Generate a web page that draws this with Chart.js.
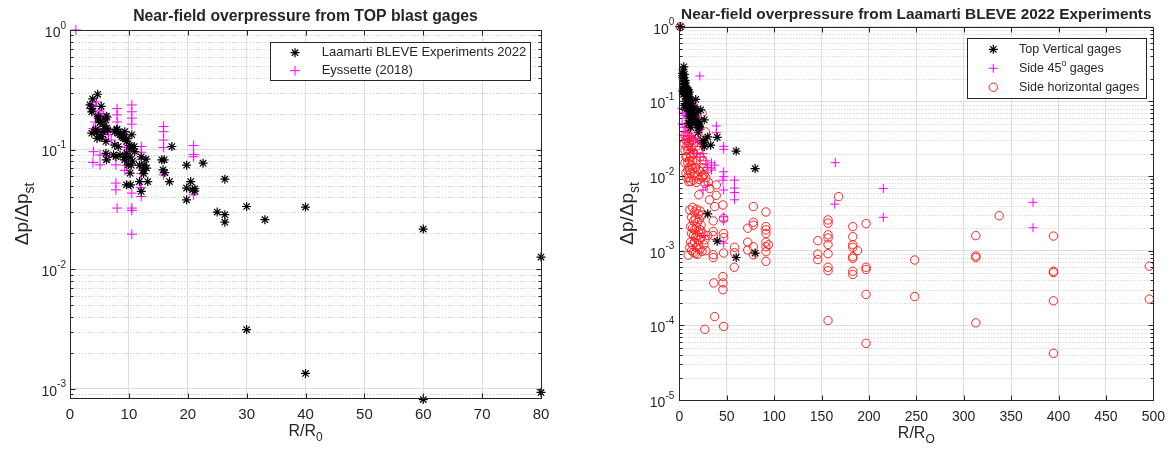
<!DOCTYPE html>
<html><head><meta charset="utf-8">
<script src="https://cdn.jsdelivr.net/npm/chart.js@4.4.0/dist/chart.umd.min.js"></script>
<style>
html,body{margin:0;padding:0;background:#fff;}
#wrap{position:relative;width:1174px;height:450px;overflow:hidden;}
canvas{position:absolute;top:0;}
</style></head><body>
<div id="wrap">
<canvas id="c1" width="590" height="450" style="left:0"></canvas>
<canvas id="c2" width="584" height="450" style="left:590px"></canvas>
</div>
<script>
// ---------------- DATA ----------------
// Laamarti BLEVE Experiments 2022 / Top vertical gages  [R/R0, dp/dp_st]
const topGages = [[4.7,0.29],[3.85,0.265],[3.4,0.236],[3.7,0.22],[3.7,0.207],[5.3,0.23],[4.8,0.189],[5.2,0.171],[6.1,0.177],[6.2,0.19],[4.8,0.183],[5.1,0.168],[5.8,0.156],[6.4,0.146],[4.4,0.146],[4.3,0.146],[3.7,0.137],[5.4,0.128],[4.6,0.124],[5.6,0.141],[4.5,0.139],[6.1,0.117],[6.2,0.15],[5.1,0.128],[6.1,0.093],[6.2,0.082],[7.6,0.141],[8.0,0.148],[7.9,0.146],[8.2,0.137],[8.8,0.128],[9.6,0.124],[9.0,0.125],[9.3,0.141],[7.6,0.109],[8.2,0.106],[7.8,0.0874],[7.4,0.0904],[8.5,0.09],[8.5,0.133],[9.3,0.087],[9.6,0.117],[9.6,0.093],[10.1,0.108],[10.5,0.102],[10.4,0.106],[10.5,0.133],[10.9,0.106],[11.0,0.096],[9.9,0.0745],[9.3,0.082],[10.2,0.0635],[9.6,0.0507],[10.3,0.0507],[10.2,0.087],[10.6,0.08],[10.4,0.074],[12.1,0.087],[11.8,0.074],[12.4,0.067],[11.8,0.054],[12.1,0.0446],[12.6,0.074],[12.9,0.083],[13.2,0.054],[12.5,0.063],[13.0,0.07],[15.6,0.082],[16.0,0.082],[15.8,0.0677],[16.1,0.064],[16.9,0.054],[17.3,0.106],[19.8,0.074],[19.8,0.0476],[19.8,0.038],[20.5,0.054],[20.8,0.046],[21.2,0.045],[21.2,0.047],[22.6,0.0769],[25.0,0.030],[26.3,0.0565],[26.3,0.0285],[26.3,0.0247],[30,0.0334],[33.1,0.0259],[30,0.00312],[40,0.033],[40,0.00134],[60,0.0216],[60,0.00081],[80,0.0126],[80,0.00093]];
// Eyssette (2018)
const eyssette = [[1,1],[3.7,0.232],[3.5,0.22],[4.3,0.23],[5.0,0.21],[4.6,0.195],[5.1,0.19],[5.6,0.2],[4.0,0.15],[4.3,0.17],[5.1,0.15],[6.2,0.145],[6.5,0.133],[5.3,0.128],[4.0,0.096],[3.9,0.078],[5.1,0.09],[5.1,0.0745],[8.0,0.22],[8.0,0.195],[8.0,0.17],[8.0,0.14],[7.8,0.0745],[7.8,0.0524],[7.8,0.046],[8.0,0.0324],[10.5,0.236],[10.5,0.207],[10.5,0.183],[10.5,0.163],[9.6,0.12],[9.3,0.104],[9.4,0.082],[9.6,0.074],[9.3,0.067],[10.5,0.0432],[10.5,0.0324],[10.5,0.031],[10.5,0.0196],[12.1,0.106],[12.1,0.095],[12.1,0.083],[12.1,0.063],[12.1,0.054],[12.1,0.0405],[12.0,0.048],[15.9,0.156],[15.9,0.141],[15.9,0.12],[15.9,0.104],[15.9,0.0614],[21,0.108],[21,0.091],[21,0.087],[21,0.0418],[6.7,0.087],[6.0,0.16],[6.5,0.14],[7.0,0.12],[9.8,0.09],[10.0,0.1],[4.5,0.25],[5.5,0.175],[9.0,0.135],[12.3,0.07],[6.3,0.185]];
// reference point shared by the three series of the right panel
const refPoint = [[1,1]];
// Side 45° gages
const side45 = [[21.7,0.219],[4,0.14],[6,0.13],[8,0.12],[10,0.11],[12,0.1],[14,0.095],[5,0.1],[7,0.09],[9,0.085],[11,0.08],[13,0.075],[15,0.07],[17,0.085],[19,0.065],[21,0.06],[3,0.08],[4,0.07],[6,0.065],[8,0.06],[10,0.055],[12,0.05],[14,0.048],[16,0.05],[18,0.045],[20,0.04],[22,0.042],[3,0.05],[5,0.045],[7,0.04],[9,0.038],[11,0.035],[13,0.033],[15,0.03],[17,0.032],[19,0.028],[21,0.03],[24,0.025],[26,0.028],[4,0.035],[6,0.03],[8,0.028],[10,0.025],[12,0.023],[14,0.022],[18,0.02],[22,0.018],[25,0.02],[28,0.016],[30,0.013],[39.1,0.0468],[39.1,0.038],[33.9,0.015],[33.9,0.0128],[37.3,0.014],[34,0.012],[46.8,0.0228],[46.8,0.025],[46.8,0.0114],[46.8,0.0098],[46,0.0088],[46.8,0.0065],[46.8,0.00285],[46.8,0.0025],[46.8,0.00126],[58.3,0.0088],[58.3,0.0069],[58.3,0.006],[58.3,0.0048],[164.6,0.0151],[164,0.0042],[215.2,0.0068],[215.2,0.0028],[373.1,0.00445],[373.1,0.00203],[27,0.0016],[25,0.0065],[30,0.0075]];
// Side horizontal gages
const sideHoriz = [[10,0.046],[9,0.034],[24,0.069],[27.6,0.039],[6,0.035],[7,0.03],[8,0.025],[9,0.022],[10,0.028],[11,0.02],[12,0.018],[13,0.024],[14,0.016],[15,0.02],[8,0.018],[9,0.015],[10,0.013],[11,0.012],[12,0.011],[13,0.014],[14,0.0125],[16,0.011],[17,0.013],[18,0.016],[19,0.01],[20,0.012],[21,0.009],[22,0.0115],[24,0.0095],[25,0.013],[26,0.0105],[27,0.008],[10,0.0095],[12,0.0085],[15,0.0088],[18,0.0082],[7,0.011],[8,0.0095],[6,0.015],[7,0.018],[16,0.028],[20,0.022],[22,0.018],[23,0.03],[18,0.025],[12,0.033],[14,0.03],[25,0.016],[28,0.0095],[30,0.0125],[6,0.022],[5,0.027],[11,0.016],[9,0.012],[20.6,0.0056],[10,0.0084],[24.8,0.01],[32.1,0.0068],[30.5,0.0083],[39.1,0.0076],[32,0.0048],[39,0.0055],[37.4,0.0039],[46,0.0041],
[11.2,0.0035],[14,0.0038],[16,0.0033],[18,0.0036],[20,0.0031],[22,0.0034],[24,0.003],[13,0.0028],[15,0.0025],[17,0.0027],[19,0.0024],[21,0.0026],[23,0.0022],[12,0.0021],[14,0.002],[16,0.0019],[18,0.0021],[20,0.0018],[22,0.0019],[25,0.0017],[13,0.0017],[15,0.0016],[17,0.0015],[19,0.0016],[21,0.0014],[23,0.0015],[12,0.0013],[14,0.0012],[16,0.0013],[18,0.0011],[20,0.0012],[22,0.00105],[26,0.0012],[28,0.001],[11,0.0011],[13,0.001],[15,0.00095],[17,0.00092],[9.4,0.00087],[19,0.00089],[24,0.00098],[27,0.0014],[30,0.0016],
[35.8,0.0025],[35.8,0.0018],[35.8,0.0016],[35.8,0.00088],[35.8,0.00081],[46.8,0.0027],[46.8,0.0017],[46.8,0.0015],[46.8,0.00093],[46,0.00045],[46,0.00037],[46,0.0003],[36.4,0.00037],[37.3,0.000131],[26.9,0.0000885],[46.8,0.0000966],[58.3,0.00111],[58.3,0.00094],[58,0.0006],[78.1,0.0039],[72.2,0.002],[72.2,0.0013],[72.2,0.00102],[78.1,0.0024],[78.1,0.0022],[78.1,0.00113],[78.1,0.00088],[91.4,0.0033],[91.4,0.0021],[91.4,0.0019],[91.4,0.0017],[91.4,0.0013],[91.4,0.00113],[91.4,0.00097],[91.4,0.00072],[94,0.0012],[146.1,0.00136],[146.1,0.0009],[146.1,0.00076],[156.9,0.00258],[156.9,0.00234],[156.9,0.00163],[156.9,0.00148],[156.9,0.00121],[156.9,0.00091],[156.9,0.0006],[156.9,0.00054],[156.9,0.000116],[168.1,0.0053],[183,0.0021],[183,0.00154],[183,0.0012],[183,0.00111],[183,0.00083],[183,0.00079],[183,0.00053],[183,0.00048],[188,0.001],[197,0.0023],[197,0.0006],[197,0.00056],[197,0.00026],[197,0.0000574],[248.3,0.00075],[248.3,0.000243],[312.8,0.00159],[312.8,0.00085],[312.8,0.00081],[312.8,0.000108],[337.5,0.00294],[394.7,0.00157],[394.7,0.00053],[394.7,0.00051],[394.7,0.000213],[394.7,0.0000422],[495.8,0.00062],[495.8,0.000225]];

// axis ranges / ticks
const leftXTicks = [0,10,20,30,40,50,60,70,80];
const leftYDecades = [-3,-2,-1,0];
const rightXTicks = [0,50,100,150,200,250,300,350,400,450,500];
const rightYDecades = [-5,-4,-3,-2,-1,0];

// ---------------- HELPERS ----------------
const FONT = '"Liberation Sans", Arial, Helvetica, sans-serif';
Chart.defaults.font.family = FONT;
const TXT = '#262626';
const pts = arr => arr.map(p => ({x: p[0], y: p[1]}));

function logTicks(decades, min) {
  const out = [];
  const lo = Math.min(...decades), hi = Math.max(...decades);
  for (let e = lo - 1; e <= hi; e++) {
    for (let m = 1; m <= 9; m++) {
      const v = m * Math.pow(10, e);
      if (e === hi && m > 1) break;
      if (v >= min * 0.9999) out.push({value: v, major: m === 1});
    }
  }
  return out;
}
function isDecade(v){ const l = Math.log10(v); return Math.abs(l - Math.round(l)) < 1e-9; }

function drawParts(ctx, parts, cx, cy, rot, align) {
  ctx.save();
  ctx.translate(cx, cy);
  if (rot) ctx.rotate(rot);
  let w = 0;
  parts.forEach(p => { ctx.font = p.font; p.w = ctx.measureText(p.t).width; w += p.w; });
  let x = align === 'left' ? 0 : (align === 'right' ? -w : -w / 2);
  ctx.textBaseline = 'middle'; ctx.textAlign = 'left'; ctx.fillStyle = TXT;
  parts.forEach(p => { ctx.font = p.font; ctx.fillText(p.t, x, p.dy || 0); x += p.w; });
  ctx.restore();
}

const minorGrid = {
  id: 'minorGrid',
  beforeDatasetsDraw(chart) {
    const {ctx, chartArea: a} = chart; const ys = chart.scales.y;
    ctx.save(); ctx.strokeStyle = '#c8c8c8'; ctx.lineWidth = 1; ctx.setLineDash([1, 2]);
    ys.ticks.forEach(t => {
      if (isDecade(t.value)) return;
      const y = Math.round(ys.getPixelForValue(t.value)) + 0.5;
      ctx.beginPath(); ctx.moveTo(a.left, y); ctx.lineTo(a.right, y); ctx.stroke();
    });
    ctx.restore();
  }
};

const frame = {
  id: 'frame',
  afterDraw(chart) {
    const {ctx, chartArea: a} = chart; const xs = chart.scales.x, ys = chart.scales.y;
    const L = Math.round(a.left) + 0.5, R = Math.round(a.right) + 0.5, T = Math.round(a.top) + 0.5, B = Math.round(a.bottom) + 0.5;
    ctx.save(); ctx.strokeStyle = TXT; ctx.lineWidth = 1;
    ctx.strokeRect(L, T, R - L, B - T);
    ctx.beginPath();
    xs.ticks.forEach(t => {
      const x = Math.round(xs.getPixelForValue(t.value)) + 0.5;
      ctx.moveTo(x, B); ctx.lineTo(x, B - 5); ctx.moveTo(x, T); ctx.lineTo(x, T + 5);
    });
    ys.ticks.forEach(t => {
      const len = isDecade(t.value) ? 5 : 3;
      const y = Math.round(ys.getPixelForValue(t.value)) + 0.5;
      ctx.moveTo(L, y); ctx.lineTo(L + len, y); ctx.moveTo(R, y); ctx.lineTo(R - len, y);
    });
    ctx.stroke(); ctx.restore();
  }
};

const annot = {
  id: 'annot',
  afterDraw(chart, args, o) {
    const ctx = chart.ctx; const a = chart.chartArea; const ys = chart.scales.y;
    // y tick labels: 10 with raised exponent
    ys.ticks.forEach(t => {
      if (!isDecade(t.value)) return;
      const y = ys.getPixelForValue(t.value);
      const e = String(Math.round(Math.log10(t.value)));
      drawParts(ctx, [{t: '10', font: o.tickSize + 'px ' + FONT, dy: 3}, {t: e, font: (o.tickSize - 4) + 'px ' + FONT, dy: -4}], a.left - o.tickPad, y, 0, 'right');
    });
    // title
    drawParts(ctx, [{t: o.title, font: 'bold ' + o.titleSize + 'px ' + FONT}], (a.left + a.right) / 2, o.titleY, 0);
    // x label
    drawParts(ctx, [{t: 'R/R', font: '16px ' + FONT}, {t: o.xsub, font: '12px ' + FONT, dy: 6}], (a.left + a.right) / 2, o.xlabY, 0);
    // y label
    drawParts(ctx, [{t: '\u0394p/\u0394p', font: '19px ' + FONT}, {t: 'st', font: '14px ' + FONT, dy: 7}], o.ylabX, (a.top + a.bottom) / 2, -Math.PI / 2);
    // legend
    const lg = o.legend;
    ctx.save();
    ctx.fillStyle = '#fff'; ctx.fillRect(lg.x0, lg.y0, lg.x1 - lg.x0, lg.y1 - lg.y0);
    ctx.strokeStyle = TXT; ctx.lineWidth = 1;
    ctx.strokeRect(Math.round(lg.x0) + 0.5, Math.round(lg.y0) + 0.5, Math.round(lg.x1 - lg.x0), Math.round(lg.y1 - lg.y0));
    lg.items.forEach((it, i) => {
      const ds = chart.data.datasets[it.ds];
      const y = lg.rows[i];
      ctx.strokeStyle = ds.pointBorderColor; ctx.fillStyle = 'rgba(0,0,0,0)'; ctx.lineWidth = ds.pointBorderWidth;
      Chart.helpers.drawPoint(ctx, {pointStyle: ds.pointStyle, radius: ds.pointRadius, rotation: 0, borderWidth: ds.pointBorderWidth}, lg.mx, y);
      drawParts(ctx, it.parts.map(p => ({t: p.t, font: (p.sup ? lg.fs * 0.7 : lg.fs) + 'px ' + FONT, dy: p.sup ? -5 : 0})), lg.tx, y, 0, 'left');
    });
    ctx.restore();
  }
};

function yScale(decades, min, max, width) {
  return {
    type: 'logarithmic', min: min, max: max,
    afterBuildTicks: s => { s.ticks = logTicks(decades, min); },
    afterFit: s => { s.width = width; },
    ticks: { display: false, autoSkip: false },
    grid: { drawTicks: false, color: c => (c.tick && isDecade(c.tick.value)) ? '#dedede' : 'rgba(0,0,0,0)' },
    border: { display: false }
  };
}
function xScale(ticks, height, fontSize, pad) {
  return {
    type: 'linear', min: ticks[0], max: ticks[ticks.length - 1],
    afterBuildTicks: s => { s.ticks = ticks.map(v => ({value: v})); },
    afterFit: s => { s.height = height; },
    ticks: { autoSkip: false, color: TXT, font: {size: fontSize}, padding: pad, maxRotation: 0 },
    grid: { drawTicks: false, color: '#dedede' },
    border: { display: false }
  };
}

// ---------------- LEFT CHART ----------------
new Chart(document.getElementById('c1'), {
  type: 'scatter',
  data: { datasets: [
    { label: 'Laamarti BLEVE Experiments 2022', data: pts(topGages), pointStyle: 'star', pointRadius: 4.5, pointBorderColor: '#000', pointBackgroundColor: 'rgba(0,0,0,0)', pointBorderWidth: 1.2, clip: false },
    { label: 'Eyssette (2018)', data: pts(eyssette), pointStyle: 'cross', pointRadius: 5, pointBorderColor: '#ff00ff', pointBackgroundColor: 'rgba(0,0,0,0)', pointBorderWidth: 1, clip: false }
  ]},
  options: {
    responsive: false, animation: false, events: [],
    layout: { padding: { left: 0, right: 49, top: 30, bottom: 0 } },
    scales: { x: xScale(leftXTicks, 52.3, 15, 8), y: yScale(leftYDecades, 0.00084, 1, 70) },
    plugins: {
      legend: { display: false }, tooltip: { enabled: false },
      annot: { tickSize: 14, tickPad: 4, title: 'Near-field overpressure from TOP blast gages', titleSize: 15.8, titleY: 17, xsub: '0', xlabY: 432, ylabX: 23,
        legend: { x0: 270, y0: 41.7, x1: 530, y1: 80, mx: 295, tx: 321.7, fs: 13, rows: [52.7, 70.7],
          items: [ {ds: 0, parts: [{t: 'Laamarti BLEVE Experiments 2022'}]}, {ds: 1, parts: [{t: 'Eyssette (2018)'}]} ] } }
    }
  },
  plugins: [minorGrid, frame, annot]
});

// ---------------- RIGHT CHART ----------------
new Chart(document.getElementById('c2'), {
  type: 'scatter',
  data: { datasets: [
    { label: 'Top Vertical gages', data: pts(refPoint.concat(topGages)), pointStyle: 'star', pointRadius: 4.5, pointBorderColor: '#000', pointBackgroundColor: 'rgba(0,0,0,0)', pointBorderWidth: 1.2, clip: false, order: 0 },
    { label: 'Side 45\u00B0 gages', data: pts(refPoint.concat(side45)), pointStyle: 'cross', pointRadius: 4.5, pointBorderColor: '#ff00ff', pointBackgroundColor: 'rgba(0,0,0,0)', pointBorderWidth: 1, clip: false, order: 2 },
    { label: 'Side horizontal gages', data: pts(refPoint.concat(sideHoriz)), pointStyle: 'circle', pointRadius: 4.2, pointBorderColor: '#ff2020', pointBackgroundColor: 'rgba(0,0,0,0)', pointBorderWidth: 1, clip: false, order: 1 }
  ]},
  options: {
    responsive: false, animation: false, events: [],
    layout: { padding: { left: 0, right: 16.7, top: 26.7, bottom: 0 } },
    scales: { x: xScale(rightXTicks, 50, 14, 9), y: yScale(rightYDecades, 0.00001, 1, 89.3) },
    plugins: {
      legend: { display: false }, tooltip: { enabled: false },
      annot: { tickSize: 14, tickPad: 5, title: 'Near-field overpressure from Laamarti BLEVE 2022 Experiments', titleSize: 15.4, titleY: 15, xsub: 'O', xlabY: 434, ylabX: 38,
        legend: { x0: 377.3, y0: 37.7, x1: 556.7, y1: 97.3, mx: 403.3, tx: 429, fs: 12.5, rows: [49.3, 68.3, 87.3],
          items: [ {ds: 0, parts: [{t: 'Top Vertical gages'}]}, {ds: 1, parts: [{t: 'Side 45'}, {t: 'o', sup: true}, {t: ' gages'}]}, {ds: 2, parts: [{t: 'Side horizontal gages'}]} ] } }
    }
  },
  plugins: [minorGrid, frame, annot]
});
</script>
</body></html>
